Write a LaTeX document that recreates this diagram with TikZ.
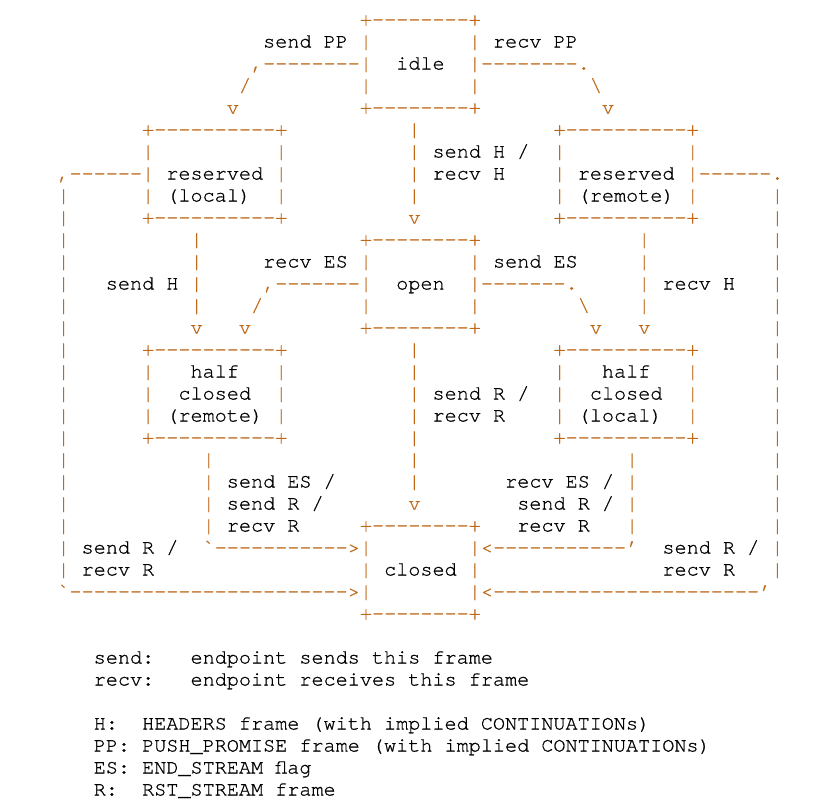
\documentclass[tikz,border=0pt]{standalone}
\usepackage{fontspec}
\setmonofont[FakeBold=0.8]{texgyrecursor-regular.otf}
\usepackage{tikz}
\definecolor{asciiorange}{RGB}{190,104,24}

\begin{document}
\begin{tikzpicture}[x=6.05pt,y=-11pt,
    every node/.style={inner sep=0pt,outer sep=0pt,anchor=base west,
      font=\ttfamily\fontsize{10.08pt}{11pt}\selectfont},
    art/.style={text=asciiorange},
    lbl/.style={text=black}]
    \useasboundingbox (0pt,0pt) rectangle (419pt,-405pt);
    \begin{scope}[shift={(-13.625pt,-12.75pt)}]
        % states, small boxes
        \foreach \n/\t in {idle/0,open/10,closed/23}{
            \node[art](\n-top) at (32,\t) {+--------+};
            \node[art](\n-bot) at (32,\t+4) {+--------+};
            \foreach \r in {1,2,3}{
                \node[art](\n-l\r) at (32,\t+\r) {|};
                \node[art](\n-r\r) at (41,\t+\r) {|};
            }
        }
        % states, big boxes
        \foreach \n/\c/\t in {resL/14/5,resR/48/5,halfR/14/15,halfL/48/15}{
            \node[art](\n-top) at (\c,\t) {+----------+};
            \node[art](\n-bot) at (\c,\t+4) {+----------+};
            \foreach \r in {1,2,3}{
                \node[art](\n-l\r) at (\c,\t+\r) {|};
                \node[art](\n-r\r) at (\c+11,\t+\r) {|};
            }
        }
        \node[lbl](idle) at (35,2) {idle};
        \node[lbl](open) at (35,12) {open};
        \node[lbl](closed) at (34,25) {closed};
        \node[lbl](resL) at (16,7) {reserved};
        \node[lbl](resL-sub) at (16,8) {(local)};
        \node[lbl](resR) at (50,7) {reserved};
        \node[lbl](resR-sub) at (50,8) {(remote)};
        \node[lbl](halfR) at (18,16) {half};
        \node[lbl](halfR-mid) at (17,17) {closed};
        \node[lbl](halfR-sub) at (16,18) {(remote)};
        \node[lbl](halfL) at (52,16) {half};
        \node[lbl](halfL-mid) at (51,17) {closed};
        \node[lbl](halfL-sub) at (50,18) {(local)};

        % connectors
        \foreach \c/\r/\s [count=\i] in {
            23/2/{,--------},22/3/{/},21/4/v,
            42/2/{--------.},51/3/{\textbackslash},52/4/v,
            36/5/|,36/6/|,36/7/|,36/8/|,36/9/v,
            18/10/|,18/11/|,18/12/|,18/13/|,18/14/v,
            55/10/|,55/11/|,55/12/|,55/13/|,55/14/v,
            24/12/{,-------},23/13/{/},22/14/v,
            42/12/{-------.},50/13/{\textbackslash},51/14/v,
            36/15/|,36/16/|,36/17/|,36/18/|,36/19/|,36/20/|,36/21/|,36/22/v,
            19/20/|,19/21/|,19/22/|,19/23/|,19/24/{`----------->},
            54/20/|,54/21/|,54/22/|,54/23/|,42/24/{<-----------’},
            7/7/{,------},7/26/{`----------------------->},
            60/7/{------.},42/26/{<----------------------’}}
            \node[art](a\i) at (\c,\r) {\s};
        \foreach \r in {8,...,25}{
            \node[art](sideL\r) at (7,\r) {|};
            \node[art](sideR\r) at (66,\r) {|};
        }

        % transition labels
        \foreach \c/\r/\s [count=\i] in {
            24/1/{send PP},43/1/{recv PP},
            38/6/{send H /},38/7/{recv H},
            24/11/{recv ES},43/11/{send ES},
            11/12/{send H},57/12/{recv H},
            38/17/{send R /},38/18/{recv R},
            21/21/{send ES /},21/22/{send R /},21/23/{recv R},
            44/21/{recv ES /},45/22/{send R /},45/23/{recv R},
            9/24/{send R /},9/25/{recv R},
            57/24/{send R /},57/25/{recv R}}
            \node[lbl](t\i) at (\c,\r) {\s};

        % legend
        \foreach \r/\k/\c/\s [count=\i] in {
            29/{send:}/18/{endpoint sends this frame},
            30/{recv:}/18/{endpoint receives this frame},
            32/{H:}/14/{HEADERS frame (with implied CONTINUATIONs)},
            33/{PP:}/14/{PUSH\_PROMISE frame (with implied CONTINUATIONs)},
            34/{ES:}/14/{END\_STREAM flag},
            35/{R:}/14/{RST\_STREAM frame}}{
            \node[lbl](key\i) at (10,\r) {\k};
            \node[lbl](val\i) at (\c,\r) {\s};
        }
    \end{scope}
\end{tikzpicture}
\end{document}
